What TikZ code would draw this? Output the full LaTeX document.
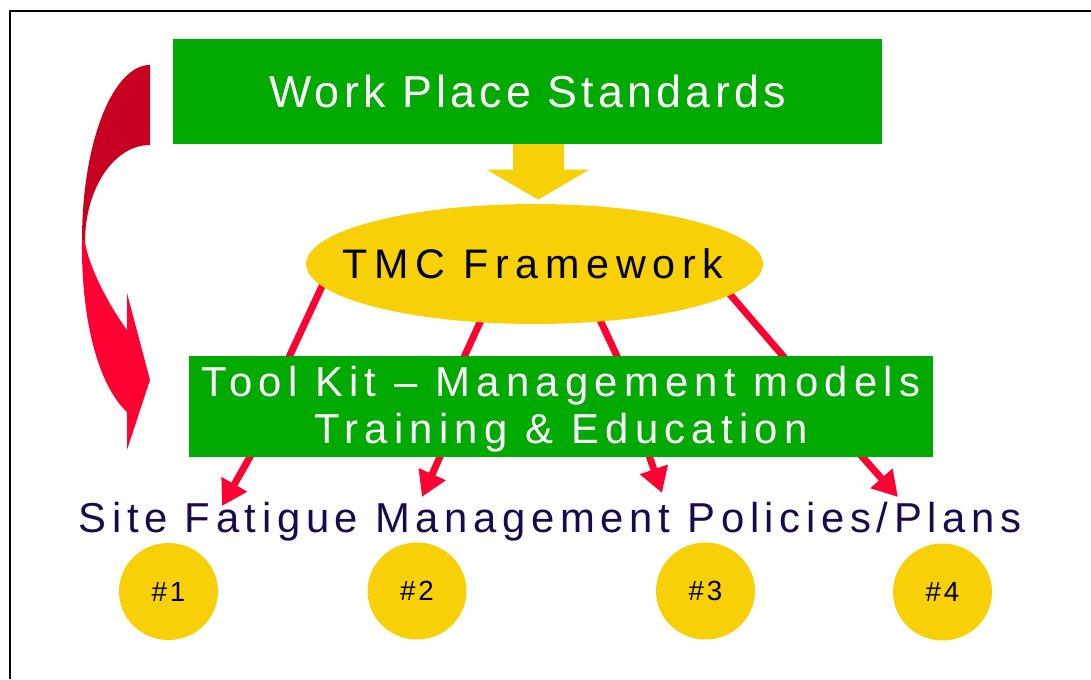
\documentclass[tikz,border=0pt]{standalone}
\usepackage{fontspec}
\setmainfont{Liberation Sans}
\newfontfamily\fwps[LetterSpace=9.4]{Liberation Sans}
\newfontfamily\ftmc[LetterSpace=16.1]{Liberation Sans}
\newfontfamily\ftool[LetterSpace=15]{Liberation Sans}
\newfontfamily\fsite[LetterSpace=13.5]{Liberation Sans}
\newfontfamily\fnum[LetterSpace=10]{Liberation Sans}
\usetikzlibrary{shapes.geometric,arrows.meta,calc,backgrounds}
\definecolor{boxgreen}{RGB}{0,170,0}
\definecolor{gold}{RGB}{248,208,8}
\definecolor{linkred}{RGB}{255,0,51}
\definecolor{deepred}{RGB}{200,0,34}
\definecolor{navy}{RGB}{26,10,77}
\begin{document}
\begin{tikzpicture}[x=0.02cm,y=-0.02cm,
  greenbox/.style={fill=boxgreen, draw=none, inner sep=0pt, text=white},
  goldoval/.style={ellipse, fill=gold, draw=none, inner sep=0pt},
  numdisc/.style={ellipse, fill=gold, draw=none, inner sep=0pt,
    minimum width=1.98cm, minimum height=1.94cm,
    font=\fnum\fontsize{15.8}{18}\selectfont},
  feed/.style={linkred, line width=0.14cm, shorten <=-0.1cm, shorten >=-0.1cm},
  drop/.style={linkred, line width=0.14cm, shorten <=-0.1cm,
    -{Triangle[width=0.56cm,length=0.5cm]}},
  blockarrow/.style={gold, line width=1.02cm,
    -{Triangle[width=2.02cm,length=0.6cm]}},
]
\useasboundingbox (0,0) rectangle (1091,679);
\begin{pgfonlayer}{background}
\fill[white] (0,0) rectangle (1091,679);
\end{pgfonlayer}

% frame
\draw[line width=1pt] (10.3,679) -- (10.3,10.8) -- (1091,10.8);

% curved arrow on the left: back face and front face with head
\fill[deepred] (150,65) .. controls (112.5,65) and (82,143.4) .. (82,240)
  -- (85,242) .. controls (85,188.5) and (114,145) .. (150,145) -- cycle;
\fill[linkred] (82,240) .. controls (81,322) and (99,386) .. (127,412)
  -- (127,450) -- (150,380) -- (127,293) -- (127,330)
  .. controls (110,307) and (89,268) .. (85,242) -- cycle;

% main blocks
\node[greenbox, minimum width=14.18cm, minimum height=2.1cm,
  font=\fwps\fontsize{25.5}{29}\selectfont] (wps) at (527.5,91.5) {Work Place Standards};
\node[goldoval, minimum width=9.14cm, minimum height=2.4cm,
  label={[font=\ftmc\fontsize{23.5}{27}\selectfont, text=black, xshift=-0.03cm]center:TMC Framework}]
  (tmc) at (534.5,264) {};
\node[greenbox, minimum width=14.88cm, minimum height=2.02cm,
  label={[align=center, text=white, yshift=-0.05cm,
    font=\ftool\fontsize{23.8}{26.6}\selectfont]center:Tool Kit – Management models\\Training \& Education}]
  (tk) at (561,406.5) {};
\node[text=navy, font=\fsite\fontsize{23.8}{27}\selectfont, anchor=base, inner sep=0pt]
  (site) at (550,532) {Site Fatigue Management Policies/Plans};

% numbered sites
\node[numdisc] (p1) at (168.5,591.5) {\#1};
\node[numdisc] (p2) at (417,591) {\#2};
\node[numdisc] (p3) at (705.5,591) {\#3};
\node[numdisc] (p4) at (942.5,592) {\#4};

% arrow heads end just above the caption
\coordinate (tip1) at (222,506);
\coordinate (tip2) at (422,497);
\coordinate (tip3) at (662,493);
\coordinate (tip4) at (898,497);

% connectors
\draw[blockarrow] ($(wps.south)+(10.5,0)$) -- ($(tmc.north)+(3.5,-4)$);
\begin{pgfonlayer}{background}
\draw[feed] (tmc.186) -- ($(tk.north west)+(101,0)$);
\draw[feed] (tmc.227) -- ($(tk.north west)+(276,0)$);
\draw[feed] (tmc.319) -- ($(tk.north west)+(428,0)$);
\draw[feed] (tmc.351) -- ($(tk.north west)+(594,0)$);
\draw[drop] ($(tk.south west)+(61,0)$) -- (tip1);
\draw[drop] ($(tk.south west)+(251,0)$) -- (tip2);
\draw[drop] ($(tk.south west)+(461,0)$) -- (tip3);
\draw[drop] ($(tk.south west)+(674,0)$) -- (tip4);
\end{pgfonlayer}
\end{tikzpicture}
\end{document}
